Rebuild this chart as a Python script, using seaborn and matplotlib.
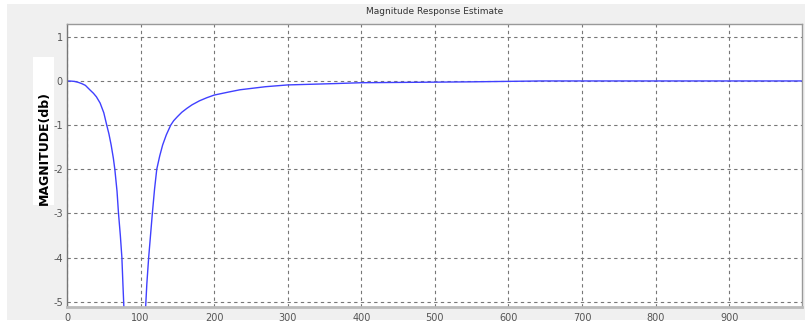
import matplotlib
matplotlib.use("Agg")
import matplotlib.pyplot as plt
import seaborn as sns
import pandas as pd
from matplotlib.patches import Rectangle

# Data
freq = [0, 5, 10, 15, 20, 25, 31, 36, 40, 45, 50, 54, 57, 60, 63, 65, 68,
        70, 72.5, 74.6, 76, 78, 85, 91,
        98, 106, 108.5, 111, 113.5, 116, 119, 122, 126, 130, 135, 141, 145,
        150, 156, 163, 170, 180, 190, 200, 220, 235, 270, 300, 363, 400, 477,
        550, 645, 999]
magnitude = [0, -0.003, -0.01, -0.03, -0.06, -0.1, -0.2, -0.28, -0.36, -0.5,
             -0.72, -1.0, -1.2, -1.45, -1.75, -2.0, -2.5, -3.0, -3.5, -4.0,
             -4.6, -5.4, -9, -30,
             -9, -5.4, -4.6, -4.0, -3.5, -3.0, -2.45, -2.0, -1.7, -1.45,
             -1.22, -1.0, -0.9, -0.81, -0.71, -0.62, -0.54, -0.45, -0.38,
             -0.32, -0.25, -0.2, -0.13, -0.09, -0.06, -0.04, -0.03, -0.02,
             0, 0]
xticks = [0, 100, 200, 300, 400, 500, 600, 700, 800, 900]
yticks = [-5, -4, -3, -2, -1, 0, 1]
title = "Magnitude Response Estimate"
ylabel = "MAGNITUDE(db)"

df = pd.DataFrame({"freq": freq, "mag": magnitude})

sns.set_theme(style="white")
plt.rcParams['font.family'] = ['DejaVu Sans']

W, H = 805, 322
fig = plt.figure(figsize=(W / 100, H / 100), dpi=100)
fig.patch.set_facecolor("white")
# gray window background
fig.patches.append(Rectangle((7 / W, 1 - 320 / H), (W - 7) / W, (320 - 4) / H,
                             transform=fig.transFigure, facecolor="#f0f0f0",
                             edgecolor="none", zorder=-10))
# white box behind y label
fig.patches.append(Rectangle((33 / W, 1 - 205 / H), 21 / W, 148 / H,
                             transform=fig.transFigure, facecolor="white",
                             edgecolor="none", zorder=-5))

ax = fig.add_axes([67 / W, 1 - 307 / H, (802 - 67) / W, (307 - 24) / H])
ax.set_zorder(5)
ax.set_facecolor("white")
sns.lineplot(data=df, x="freq", y="mag", ax=ax, color="#4040ff",
             linewidth=1.0, estimator=None, sort=False)
ax.set_xlim(0, 999)
ax.set_ylim(-5.12, 1.29)
ax.set_xticks(xticks)
ax.set_yticks(yticks)
ax.set_xticklabels([str(t) for t in xticks])
ax.set_yticklabels([str(t) for t in yticks])
ax.grid(True, linestyle=(0, (3, 3)), color="#777777", linewidth=0.8)
ax.tick_params(axis="both", direction="in", length=3, labelsize=7,
               labelcolor="#555555", color="#777777")
ax.tick_params(axis="y", pad=3)
ax.tick_params(axis="x", pad=4)
for s in ax.spines.values():
    s.set_color("#999999")
    s.set_linewidth(1.0)
ax.spines["bottom"].set_color("#bbbbbb")
ax.spines["bottom"].set_linewidth(2.0)
ax.spines["left"].set_color("#777777")
ax.set_xlabel("")
ax.set_ylabel("")

fig.text((67 + 802) / 2 / W, 1 - 12 / H, title, ha="center", va="center",
         fontsize=6.5, color="#333333", zorder=6)
fig.text(44 / W, 1 - 148 / H, ylabel, rotation=90, ha="center", va="center",
         fontsize=9, fontweight="bold", color="black", zorder=6)

fig.savefig("out.png", dpi=100)
